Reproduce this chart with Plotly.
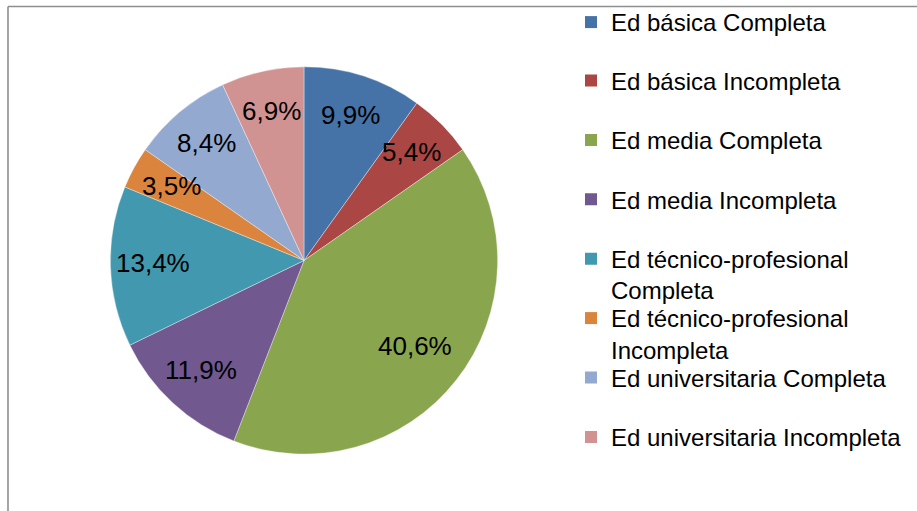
import math
import plotly.graph_objects as go

categories = [
    "Ed básica Completa",
    "Ed básica Incompleta",
    "Ed media Completa",
    "Ed media Incompleta",
    "Ed técnico-profesional Completa",
    "Ed técnico-profesional Incompleta",
    "Ed universitaria Completa",
    "Ed universitaria Incompleta",
]
values = [9.9, 5.4, 40.6, 11.9, 13.4, 3.5, 8.4, 6.9]
colors = ["#4572A7", "#AA4643", "#89A54E", "#71588F",
          "#4198AF", "#DB843D", "#93A9CF", "#D19392"]


def legend_label(s):
    # the long names wrap after "técnico-profesional"
    return s.replace("técnico-profesional ", "técnico-profesional<br>")


W, H = 917, 511
CX, CY, R = 304, 260, 194  # pixel geometry of the pie
dom_x = [(CX - R) / W, (CX + R) / W]
dom_y = [(H - CY - R) / H, (H - CY + R) / H]

FONT = "Liberation Sans, Arial, sans-serif"

fig = go.Figure()
fig.add_trace(go.Pie(
    labels=categories,
    values=values,
    marker=dict(colors=colors, line=dict(color="rgba(255,255,255,0.6)", width=0.6)),
    sort=False,
    direction="clockwise",
    rotation=0,
    textinfo="none",
    hoverinfo="label+percent",
    domain=dict(x=dom_x, y=dom_y),
    showlegend=False,
))

# legend entries: one per category, each in its own legend box so the
# spacing follows the reference layout
SLOT0, SLOT = -1.0, 59.4
LEG_X = 571
legends = {}
for i, (cat, col) in enumerate(zip(categories, colors)):
    key = "legend" if i == 0 else f"legend{i + 1}"
    fig.add_trace(go.Scatter(
        x=[None], y=[None], mode="markers",
        marker=dict(symbol="square", size=12, color=col, line=dict(width=0)),
        name=legend_label(cat), legend=key, showlegend=True,
        hoverinfo="skip",
    ))
    legends[key] = dict(
        x=LEG_X / W, xanchor="left",
        y=1 - (SLOT0 + SLOT * i) / H, yanchor="top",
        font=dict(family=FONT, size=24, color="#000000"),
        valign="top",
        bgcolor="rgba(0,0,0,0)",
        borderwidth=0,
    )

# percentage labels placed from cumulative values
total = sum(values)
annotations = []
cum = 0.0
LABEL_LIFT = 2  # px
for v in values:
    mid = (cum + v / 2) / total * 2 * math.pi
    cum += v
    f = 0.73 if v / total > 0.3 else 0.78
    px = CX + f * R * math.sin(mid)
    py = (H - CY) + f * R * math.cos(mid) + LABEL_LIFT
    txt = f"{v / total * 100:.1f}%".replace(".", ",")
    annotations.append(dict(
        x=px / W, y=py / H, xref="paper", yref="paper",
        text=txt, showarrow=False,
        font=dict(family=FONT, size=26, color="#000000"),
        xanchor="center", yanchor="middle",
    ))

fig.update_layout(
    width=W, height=H,
    margin=dict(l=0, r=0, t=0, b=0),
    paper_bgcolor="white",
    plot_bgcolor="white",
    separators=",.",
    showlegend=True,
    xaxis=dict(visible=False),
    yaxis=dict(visible=False),
    annotations=annotations,
    shapes=[
        dict(type="line", xref="paper", yref="paper",
             x0=8 / W, x1=1.0, y0=1 - 5.5 / H, y1=1 - 5.5 / H,
             line=dict(color="#8E8E8E", width=1.6)),
        dict(type="line", xref="paper", yref="paper",
             x0=8 / W, x1=8 / W, y0=0, y1=1 - 5.5 / H,
             line=dict(color="#8E8E8E", width=1.6)),
    ],
    **legends,
)

fig.write_html("out.html", config={"displayModeBar": False},
               post_script="document.body.style.margin='0px';")
